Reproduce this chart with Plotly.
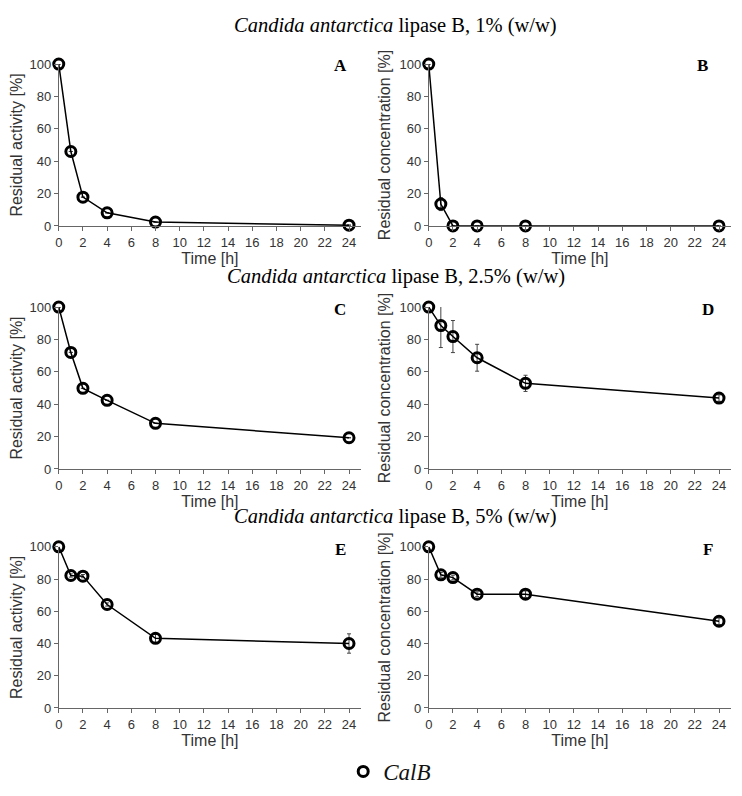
import plotly.graph_objects as go

# time points [h]
time_h = [0, 1, 2, 4, 8, 24]
time_ticks = [0, 2, 4, 6, 8, 10, 12, 14, 16, 18, 20, 22, 24]
pct_ticks = [0, 20, 40, 60, 80, 100]

# 1% (w/w)
act_1 = [100, 46, 17.8, 8.1, 2.4, 0.5]
act_1_err = [0, 0, 0, 0, 0, 0]
conc_1 = [100, 13.5, 0, 0, 0, 0]
conc_1_err = [0, 4, 0, 0, 0, 0]

# 2.5% (w/w)
act_25 = [100, 72, 49.8, 42.4, 28.2, 19.3]
act_25_err = [0, 0, 0, 0, 0, 0]
conc_25 = [100, 88.6, 81.8, 68.7, 52.9, 43.8]
conc_25_err = [3, 13.6, 9.9, 8.3, 5, 2]

# 5% (w/w)
act_5 = [100, 82.2, 81.8, 64.2, 43.2, 40]
act_5_err = [2, 1, 1, 1, 2.5, 6]
conc_5 = [100, 82.6, 80.9, 70.6, 70.6, 53.8]
conc_5_err = [1.5, 1.5, 1.5, 1.5, 2, 2]

panels = [
    ("A", act_1, act_1_err, "Residual activity [%]"),
    ("B", conc_1, conc_1_err, "Residual concentration [%]"),
    ("C", act_25, act_25_err, "Residual activity [%]"),
    ("D", conc_25, conc_25_err, "Residual concentration [%]"),
    ("E", act_5, act_5_err, "Residual activity [%]"),
    ("F", conc_5, conc_5_err, "Residual concentration [%]"),
]
titles = [
    "<i>Candida antarctica</i> lipase B, 1% (w/w)",
    "<i>Candida antarctica</i> lipase B, 2.5% (w/w)",
    "<i>Candida antarctica</i> lipase B, 5% (w/w)",
]

W, H = 742, 796
OFF = 8  # page body margin in the browser

def px(x):
    return (x - OFF) / W

def py(y):
    return 1 - (y - OFF) / H

x_dom = [(55, 359), (427, 731)]
y_dom = [(58, 223), (305.7, 470.7), (550, 714.3)]
title_y = [19, 275, 519]
label_xy = [(338, 59), (702, 59), (338, 308), (708, 308), (338, 553), (708, 553)]

AX = "#666666"
TXT = "#333333"
SANS = "Liberation Sans"
SERIF = "Liberation Serif"

fig = go.Figure()
layout = dict(
    width=W, height=H,
    margin=dict(l=0, r=0, t=0, b=0),
    plot_bgcolor="white", paper_bgcolor="white",
    showlegend=True,
    legend=dict(x=px(341), y=py(779), xanchor="left", yanchor="middle",
                font=dict(family=SERIF, size=23, color="#111111"),
                bgcolor="rgba(0,0,0,0)", itemwidth=30),
)
annotations = []

for i, (lab, vals, errs, ytitle) in enumerate(panels):
    row, col = divmod(i, 2)
    n = "" if i == 0 else str(i + 1)
    fig.add_trace(go.Scatter(
        x=time_h, y=vals,
        mode="lines+markers",
        line=dict(color="black", width=1.5),
        marker=dict(symbol="circle-open", size=10, color="black",
                    line=dict(width=3, color="black")),
        error_y=dict(type="data", array=errs, visible=True,
                     color="#444444", thickness=1, width=2),
        cliponaxis=False, showlegend=False,
        xaxis="x" + n, yaxis="y" + n,
    ))
    x0, x1 = x_dom[col]
    y0, y1 = y_dom[row]
    layout["xaxis" + n] = dict(
        domain=[px(x0), px(x1)], anchor="y" + n,
        range=[0, 25], tickvals=time_ticks,
        showgrid=False, zeroline=False,
        showline=True, linecolor=AX, linewidth=1,
        ticks="outside", ticklen=4, tickcolor=AX,
        tickfont=dict(family=SANS, size=13, color=TXT),
        title=dict(text="Time [h]", standoff=0,
                   font=dict(family=SANS, size=16, color=TXT)),
    )
    layout["yaxis" + n] = dict(
        domain=[py(y1), py(y0)], anchor="x" + n,
        range=[0, 100], tickvals=pct_ticks,
        showgrid=False, zeroline=False,
        showline=True, linecolor=AX, linewidth=1,
        ticks="outside", ticklen=4, tickcolor=AX,
        tickfont=dict(family=SANS, size=13, color=TXT),
        title=dict(text=ytitle, standoff=4,
                   font=dict(family=SANS, size=16, color=TXT)),
    )
    lx, ly = label_xy[i]
    annotations.append(dict(
        text="<b>" + lab + "</b>", x=px(lx), y=py(ly),
        xref="paper", yref="paper", showarrow=False,
        xanchor="center", yanchor="middle",
        font=dict(family=SERIF, size=17, color="black"),
    ))

for t, ty in zip(titles, title_y):
    annotations.append(dict(
        text=t, x=px(394), y=py(ty), xref="paper", yref="paper",
        xanchor="center", yanchor="middle",
        showarrow=False, font=dict(family=SERIF, size=20.5, color="black"),
    ))

# legend entry
fig.add_trace(go.Scatter(
    x=[None], y=[None], mode="markers", name="<i>CalB</i>",
    marker=dict(symbol="circle-open", size=10, color="black",
                line=dict(width=3, color="black")),
))

layout["annotations"] = annotations
fig.update_layout(**layout)
fig.write_html("out.html")
